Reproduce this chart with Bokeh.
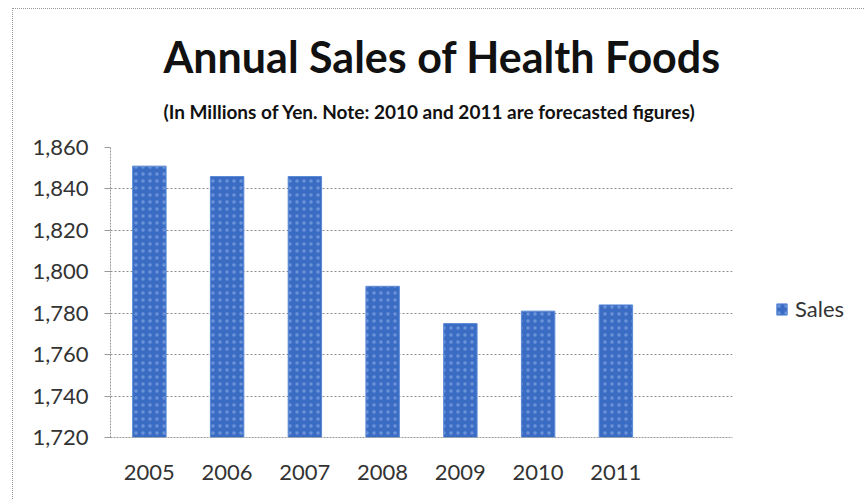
from bokeh.plotting import figure
from bokeh.models import (Range1d, FactorRange, Legend, LegendItem, Title,
                          NumeralTickFormatter, SingleIntervalTicker, ColumnDataSource)
from bokeh.embed import file_html
from bokeh.resources import INLINE

# ---- data ----
years = ["2005", "2006", "2007", "2008", "2009", "2010", "2011"]
sales = [1851, 1846, 1846, 1793, 1775, 1781, 1784]
title_text = "Annual Sales of Health Foods"
subtitle_text = "(In Millions of Yen. Note: 2010 and 2011 are forecasted figures)"
series_name = "Sales"
y_min, y_max, y_step = 1720, 1860, 20

FONT = "Lato"

src = ColumnDataSource(dict(year=years, sales=sales))

p = figure(
    frame_width=622, frame_height=290,
    x_range=FactorRange(*(years + [" "]), range_padding=0, factor_padding=0),
    y_range=Range1d(y_min, y_max),
    output_backend="svg", toolbar_location=None,
    min_border_left=97, min_border_right=132,
    min_border_top=138, min_border_bottom=62,
    title=None,
)
p.styles = {"border-left": "1px dotted #999999", "border-top": "1px dotted #999999",
            "margin-left": "12px", "margin-top": "8px"}

r = p.vbar(x="year", top="sales", bottom=y_min, width=0.43, source=src,
           fill_color="#3b6cc4", line_color="#5b8ad6", line_width=1,
           hatch_pattern="dot", hatch_color="#9db8ea", hatch_scale=7,
           hatch_weight=1, hatch_alpha=0.5)

# titles (subtitle added first so the main title sits above it)
p.add_layout(Title(text=subtitle_text, align="left", offset=53,
                   text_font=FONT, text_font_style="bold",
                   text_font_size="19px", text_color="#111111",
                   standoff=50), "above")
p.add_layout(Title(text=title_text, align="left", offset=53,
                   text_font=FONT, text_font_style="bold",
                   text_font_size="43px", text_color="#111111",
                   standoff=-18), "above")

# y axis
p.yaxis.ticker = SingleIntervalTicker(interval=y_step)
p.yaxis.formatter = NumeralTickFormatter(format="0,0")
p.yaxis.axis_line_color = "#9a9a9a"
p.yaxis.axis_line_dash = "2 1"
p.yaxis.major_tick_line_color = "#9a9a9a"
p.yaxis.major_tick_out = 6
p.yaxis.major_tick_in = 0
p.yaxis.minor_tick_line_color = None
p.yaxis.major_label_text_font = FONT
p.yaxis.major_label_text_font_size = "22px"
p.yaxis.major_label_text_color = "#333333"
p.yaxis.major_label_standoff = 16

# x axis
p.xaxis.axis_line_color = "#9a9a9a"
p.xaxis.axis_line_dash = "2 1"
p.xaxis.major_tick_line_color = None
p.xaxis.major_label_text_font = FONT
p.xaxis.major_label_text_font_size = "22px"
p.xaxis.major_label_text_color = "#333333"
p.xaxis.major_label_standoff = 14

# grid
p.xgrid.grid_line_color = None
p.ygrid.grid_line_color = "#8c8c8c"
p.ygrid.grid_line_dash = "2 2"
p.ygrid.grid_line_width = 1
p.outline_line_color = None

legend = Legend(items=[LegendItem(label=series_name, renderers=[r])],
                location=(43, 115),
                border_line_color=None,
                background_fill_alpha=0, glyph_width=13, glyph_height=14,
                label_text_font=FONT, label_text_font_size="22px",
                label_text_color="#333333", margin=0, padding=0,
                label_standoff=7)
p.add_layout(legend, "right")

open("out.html", "w").write(file_html(p, INLINE))
